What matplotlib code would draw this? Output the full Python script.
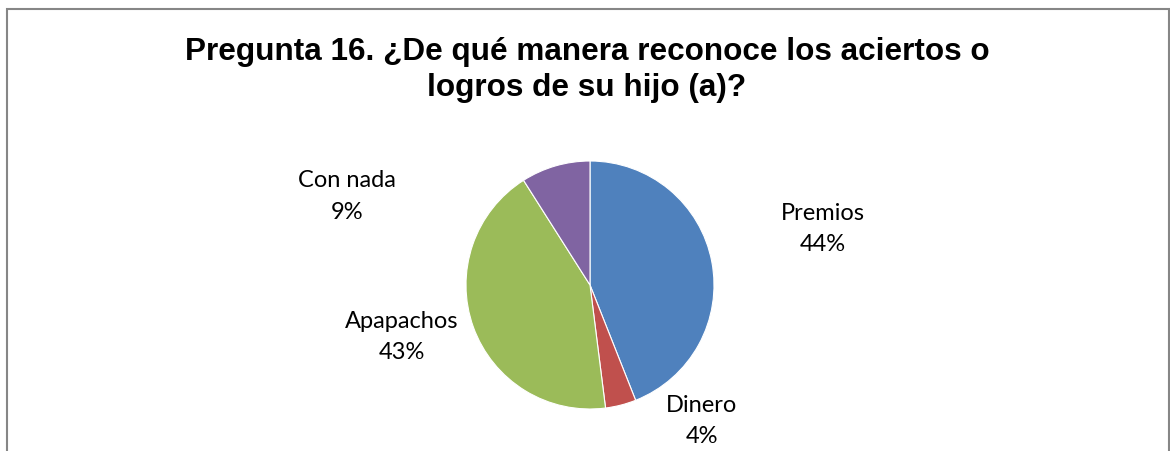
import matplotlib.pyplot as plt
from matplotlib.patches import Rectangle

categorias = ['Premios', 'Dinero', 'Apapachos', 'Con nada']
porcentajes = [44, 4, 43, 9]
colores = ['#4F81BD', '#C0504D', '#9BBB59', '#8064A2']
titulo = ['Pregunta 16. ¿De qué manera reconoce los aciertos o',
          'logros de su hijo (a)?']

# label positions in pie-radius units (center = 0,0)
pos_etiquetas = [(1.88, 0.46), (0.90, -1.09), (-1.52, -0.41), (-1.96, 0.72)]

W, H = 1170, 452
fig = plt.figure(figsize=(W / 100, H / 100), dpi=100)

# chart frame (bottom edge runs off the image)
fig.patches.append(Rectangle((6.5 / W, -0.05), (1169 - 6.5) / W, 1.05 - 9.5 / H,
                             transform=fig.transFigure, fill=False,
                             edgecolor='#868686', linewidth=1.5))

# two-line title, one baseline per line
for linea, base in zip(titulo, [60, 96]):
    fig.text(587 / W, 1 - base / H, linea, ha='center', va='baseline',
             fontsize=22.7, fontweight='bold', family='Liberation Sans')

cx, cy, r = 590, 286, 124
ax = fig.add_axes([(cx - r) / W, (H - cy - r) / H, 2 * r / W, 2 * r / H])
ax.pie(porcentajes, colors=colores, startangle=90, counterclock=False,
       radius=1, wedgeprops=dict(edgecolor='white', linewidth=0.8))
ax.set_xlim(-1, 1)
ax.set_ylim(-1, 1)
ax.set_aspect('equal')
ax.axis('off')

for cat, p, (x, y) in zip(categorias, porcentajes, pos_etiquetas):
    ax.text(x, y, f'{cat}\n{p}%', ha='center', va='center', fontsize=17,
            family='Lato', linespacing=1.62, clip_on=False)

fig.savefig('out.png', dpi=100)
